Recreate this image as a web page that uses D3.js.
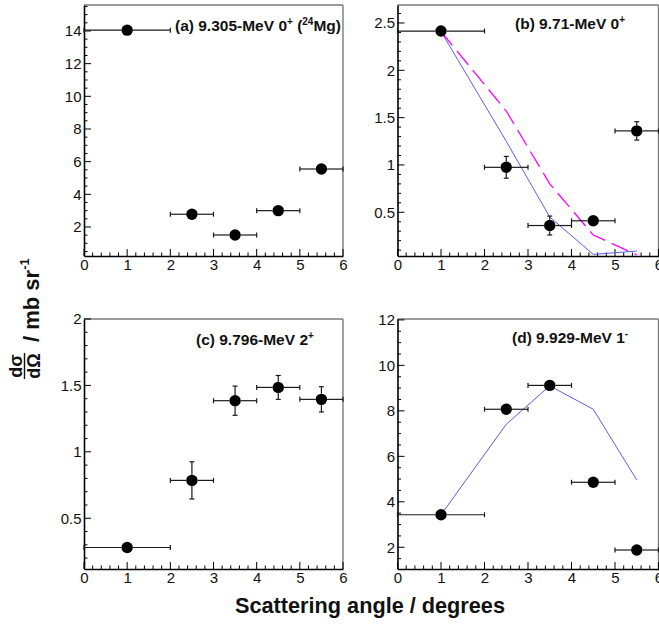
<!DOCTYPE html>
<html><head><meta charset="utf-8">
<script src="https://cdn.jsdelivr.net/npm/d3@7"></script>
<style>
body{margin:0;background:#fff}
svg{display:block}
text{font-family:"Liberation Sans",Arial,Helvetica,sans-serif}
</style>
</head><body>
<svg id="chart" width="659" height="626"></svg>
<script>
// ---- data ----
const angles = [1, 2.5, 3.5, 4.5, 5.5];
const angleErrors = [1, 0.5, 0.5, 0.5, 0.5];
const xTickValues = [0, 1, 2, 3, 4, 5, 6];

const aValues = [14.05, 2.78, 1.51, 3.0, 5.55];
const aErrors = [0.15, 0.12, 0.1, 0.12, 0.14];
const aTicks = [2, 4, 6, 8, 10, 12, 14];

const bValues = [2.415, 0.975, 0.36, 0.41, 1.36];
const bErrors = [0.02, 0.115, 0.1, 0.03, 0.097];
const bCalcSolid = [2.41, 1.25, 0.45, 0.055, 0.09];
const bCalcDashed = [2.41, 1.57, 0.80, 0.26, 0.05];
const bTicks = [0.5, 1, 1.5, 2, 2.5];
const bTickLabels = ["0.5", "1", "1.5", "2", "2.5"];

const cValues = [0.28, 0.785, 1.385, 1.485, 1.395];
const cErrors = [0.02, 0.14, 0.11, 0.09, 0.095];
const cTicks = [0.5, 1, 1.5, 2];
const cTickLabels = ["0.5", "1", "1.5", "2"];

const dValues = [3.43, 8.07, 9.12, 4.86, 1.88];
const dErrors = [0.12, 0.12, 0.12, 0.12, 0.12];
const dCalc = [3.43, 7.41, 9.1, 8.07, 4.96];
const dTicks = [2, 4, 6, 8, 10, 12];

// ---- drawing ----
const svg = d3.select("#chart");
const FONT = '"Liberation Sans",Arial,Helvetica,sans-serif';

function panel(cfg) {
  const x = d3.scaleLinear().domain([0, 6]).range([cfg.left, cfg.right]);
  const y = d3.scaleLinear().domain(cfg.yDomain).range([cfg.bottom, cfg.top]);
  const g = svg.append("g");

  // frame top/right (gray)
  g.append("line").attr("x1", cfg.left).attr("x2", cfg.right).attr("y1", cfg.top).attr("y2", cfg.top)
    .attr("stroke", "#7a7a7a").attr("stroke-width", 1.4);
  g.append("line").attr("x1", cfg.right).attr("x2", cfg.right).attr("y1", cfg.top).attr("y2", cfg.bottom)
    .attr("stroke", "#7a7a7a").attr("stroke-width", 1.4);

  // x axis
  const xAxis = d3.axisBottom(x).tickValues(xTickValues).tickSize(0).tickFormat(d3.format("d"));
  const xa = g.append("g").attr("transform", `translate(0,${cfg.bottom})`).call(xAxis);
  xa.select(".domain").attr("stroke", "#000").attr("stroke-width", 1.6);
  xa.selectAll("text").attr("font-size", 15).attr("font-family", FONT).attr("fill", "#111").attr("dy", "0.71em").attr("y", 3);
  const xMinor = d3.range(0, 6.0001, 0.2);
  g.selectAll(null).data(xMinor).join("line")
    .attr("x1", d => x(d)).attr("x2", d => x(d))
    .attr("y1", cfg.bottom).attr("y2", d => cfg.bottom - (Math.abs(d - Math.round(d)) < 1e-6 ? 7 : 3.5))
    .attr("stroke", "#000").attr("stroke-width", 1);

  // y axis
  const yAxis = d3.axisLeft(y).tickValues(cfg.yTicks).tickSize(0)
    .tickFormat((d, i) => cfg.yTickLabels ? cfg.yTickLabels[i] : d3.format("d")(d));
  const ya = g.append("g").attr("transform", `translate(${cfg.left},0)`).call(yAxis);
  ya.select(".domain").attr("stroke", "#000").attr("stroke-width", 1.6);
  ya.selectAll("text").attr("font-size", 15).attr("font-family", FONT).attr("fill", "#111").attr("x", -2.5);
  const yMinor = d3.range(Math.ceil(cfg.yDomain[0] / cfg.minor) * cfg.minor, cfg.yDomain[1] + 1e-9, cfg.minor);
  g.selectAll(null).data(yMinor).join("line")
    .attr("y1", d => y(d)).attr("y2", d => y(d))
    .attr("x1", cfg.left).attr("x2", d => cfg.left + (Math.abs(d / cfg.major - Math.round(d / cfg.major)) < 1e-6 ? 7 : 3.5))
    .attr("stroke", "#000").attr("stroke-width", 1);

  // theory curves
  const line = d3.line().x((d, i) => x(angles[i])).y(d => y(d));
  (cfg.curves || []).forEach(c => {
    g.append("path").datum(c.values).attr("d", line).attr("fill", "none")
      .attr("stroke", c.color).attr("stroke-width", c.width || 1)
      .attr("stroke-dasharray", c.dash || null);
  });

  // error bars & markers
  const R = 5.7, CAP = 2.5;
  const eb = g.append("g").attr("stroke", "#1a1a1a").attr("stroke-width", 1.2);
  cfg.values.forEach((v, i) => {
    const cx = x(angles[i]), cy = y(v);
    const xl = x(angles[i] - angleErrors[i]), xr = x(angles[i] + angleErrors[i]);
    eb.append("line").attr("x1", xl).attr("x2", cx - R).attr("y1", cy).attr("y2", cy);
    eb.append("line").attr("x1", cx + R).attr("x2", xr).attr("y1", cy).attr("y2", cy);
    eb.append("line").attr("x1", xl).attr("x2", xl).attr("y1", cy - CAP).attr("y2", cy + CAP);
    eb.append("line").attr("x1", xr).attr("x2", xr).attr("y1", cy - CAP).attr("y2", cy + CAP);
    const yt = y(v + cfg.errors[i]), yb = y(v - cfg.errors[i]);
    if (cy - yt > R) {
      eb.append("line").attr("x1", cx).attr("x2", cx).attr("y1", yt).attr("y2", cy - R);
      eb.append("line").attr("x1", cx).attr("x2", cx).attr("y1", cy + R).attr("y2", yb);
      eb.append("line").attr("x1", cx - CAP).attr("x2", cx + CAP).attr("y1", yt).attr("y2", yt);
      eb.append("line").attr("x1", cx - CAP).attr("x2", cx + CAP).attr("y1", yb).attr("y2", yb);
    }
  });
  g.selectAll(null).data(cfg.values).join("circle")
    .attr("cx", (d, i) => x(angles[i])).attr("cy", d => y(d)).attr("r", R).attr("fill", "#000");

  // label
  const t = g.append("text").attr("x", cfg.labelX).attr("y", cfg.labelY)
    .attr("font-size", 15.5).attr("font-weight", "bold").attr("fill", "#111");
  cfg.label.forEach(p => {
    const ts = t.append("tspan").text(p.t);
    if (p.sup) ts.attr("font-size", 10).attr("dy", -6.5);
    if (p.after) ts.attr("dy", 6.5);
  });
}

panel({left: 84, right: 343, top: 5, bottom: 256, yDomain: [0.224, 15.59], yTicks: aTicks,
  major: 2, minor: 0.5, values: aValues, errors: aErrors,
  labelX: 175, labelY: 31,
  label: [{t: "(a) 9.305-MeV 0"}, {t: "+", sup: true}, {t: " (", after: true}, {t: "24", sup: true}, {t: "Mg)", after: true}]});

panel({left: 397.5, right: 658.5, top: 5, bottom: 256, yDomain: [0.038, 2.69], yTicks: bTicks, yTickLabels: bTickLabels,
  major: 0.5, minor: 0.1, values: bValues, errors: bErrors,
  curves: [{values: bCalcSolid, color: "#5c5ce8"}, {values: bCalcDashed, color: "#ff00ff", width: 1.3, dash: "18,7"}],
  labelX: 515, labelY: 29,
  label: [{t: "(b) 9.71-MeV 0"}, {t: "+", sup: true}]});

panel({left: 84, right: 343, top: 319, bottom: 569, yDomain: [0.118, 2.0], yTicks: cTicks, yTickLabels: cTickLabels,
  major: 0.5, minor: 0.1, values: cValues, errors: cErrors,
  labelX: 196, labelY: 345,
  label: [{t: "(c) 9.796-MeV 2"}, {t: "+", sup: true}]});

panel({left: 397.5, right: 658.5, top: 319, bottom: 569, yDomain: [1.045, 12.04], yTicks: dTicks,
  major: 2, minor: 0.5, values: dValues, errors: dErrors,
  curves: [{values: dCalc, color: "#5c5ce8"}],
  labelX: 512, labelY: 343,
  label: [{t: "(d) 9.929-MeV 1"}, {t: "-", sup: true}]});

// axis titles
svg.append("text").attr("x", 370).attr("y", 613).attr("text-anchor", "middle")
  .attr("font-size", 21.7).attr("font-weight", "bold").attr("fill", "#111")
  .text("Scattering angle / degrees");

const yl = svg.append("g").attr("transform", "translate(40,380) rotate(-90)")
  .attr("font-weight", "bold").attr("fill", "#111");
yl.append("text").attr("x", 14).attr("y", -18).attr("text-anchor", "middle").attr("font-size", 18).text("dσ");
yl.append("line").attr("x1", 1).attr("x2", 27).attr("y1", -15.5).attr("y2", -15.5).attr("stroke", "#111").attr("stroke-width", 1.4);
yl.append("text").attr("x", 14).attr("y", 0).attr("text-anchor", "middle").attr("font-size", 18).text("dΩ");
const yt = yl.append("text").attr("x", 38).attr("y", -1).attr("font-size", 22);
yt.append("tspan").text("/ mb sr");
yt.append("tspan").text("-1").attr("font-size", 13).attr("dy", -10);
</script>
</body></html>
